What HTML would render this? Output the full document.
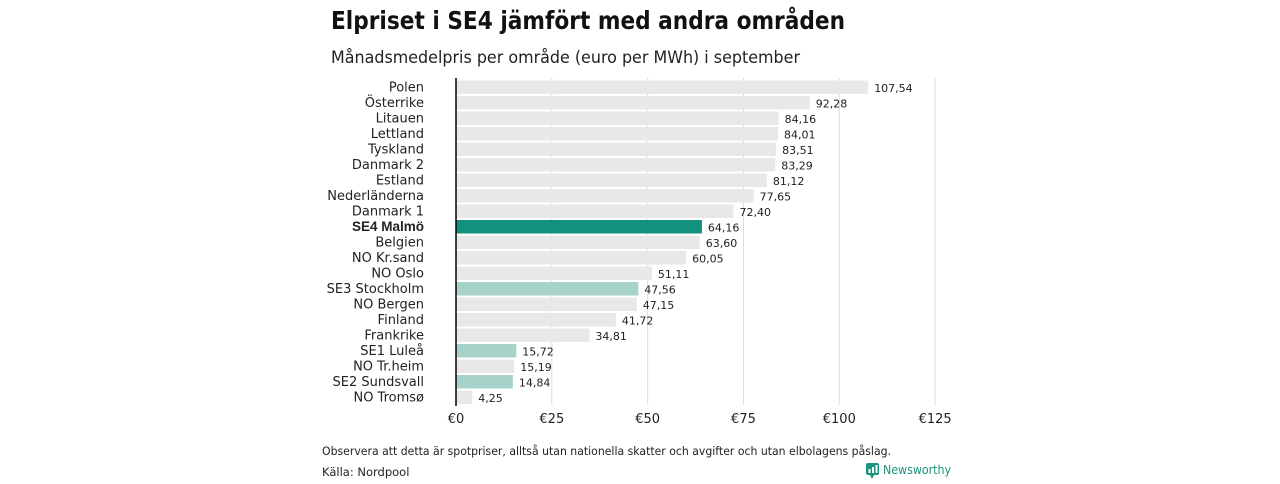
<!DOCTYPE html>
<html><head><meta charset="utf-8"><style>
body{margin:0;background:#fff;width:1280px;height:480px;overflow:hidden;font-family:"DejaVu Sans","Liberation Sans",sans-serif}
</style></head><body>
<svg id="chart" width="1280" height="480" xmlns="http://www.w3.org/2000/svg" font-family="DejaVu Sans, Liberation Sans, sans-serif">
<text x="331" y="29" font-size="25" font-weight="bold" fill="#111" textLength="514" lengthAdjust="spacingAndGlyphs">Elpriset i SE4 jämfört med andra områden</text>
<text x="331" y="63" font-size="17" fill="#222" textLength="469" lengthAdjust="spacingAndGlyphs">Månadsmedelpris per område (euro per MWh) i september</text>
<g id="grid"></g><g id="bars"></g>
<text x="322" y="455" font-size="11.5" fill="#222" textLength="569" lengthAdjust="spacingAndGlyphs">Observera att detta är spotpriser, alltså utan nationella skatter och avgifter och utan elbolagens påslag.</text>
<text x="322" y="476" font-size="11.5" fill="#222">Källa: Nordpool</text>
<g>
<rect x="866" y="463" width="13" height="12" rx="2" fill="#1a9480"/><path d="M870 475 L872 479 L874 475Z" fill="#1a9480"/>
<rect x="868.5" y="469" width="2" height="4" fill="#fff"/><rect x="872" y="467" width="2" height="6" fill="#fff"/><rect x="875.5" y="465" width="2" height="8" fill="#fff"/>
<text x="883" y="474" font-size="12" fill="#1a9480" textLength="68" lengthAdjust="spacingAndGlyphs">Newsworthy</text></g>
</svg>
<script>
const categories=["Polen","Österrike","Litauen","Lettland","Tyskland","Danmark  2","Estland","Nederländerna","Danmark  1","SE4 Malmö","Belgien","NO Kr.sand","NO Oslo","SE3  Stockholm","NO Bergen","Finland","Frankrike","SE1  Luleå","NO Tr.heim","SE2  Sundsvall","NO Tromsø"];
const values=[107.54,92.28,84.16,84.01,83.51,83.29,81.12,77.65,72.40,64.16,63.60,60.05,51.11,47.56,47.15,41.72,34.81,15.72,15.19,14.84,4.25];
const highlight=["","","","","","","","","","main","","","","se","","","","se","","se",""];
const ticks=[0,25,50,75,100,125];
const tickLabels=["€0","€25","€50","€75","€100","€125"];
const NS="http://www.w3.org/2000/svg";
const x=v=>456+v*3.833;
const y=i=>87+i*15.5;
const g=document.getElementById('grid'),b=document.getElementById('bars');
function mk(p,t,a){const e=document.createElementNS(NS,t);for(const k in a)e.setAttribute(k,a[k]);p.appendChild(e);return e;}
ticks.forEach((t,i)=>{
 if(t>0){const l=mk(g,'line',{x1:x(t),x2:x(t),y1:78,y2:405,stroke:'#ddd','stroke-width':1});
 
 }
 const tx=mk(g,'text',{x:x(t),y:423,'font-size':13,'text-anchor':'middle',fill:'#222'});
 tx.textContent=tickLabels[i];
 
 
});
categories.forEach((c,i)=>{
 const col=highlight[i]==='main'?'#13917f':highlight[i]==='se'?'#a6d2ca':'#e8e8e8';
 const r=mk(b,'rect',{x:456,y:y(i)-6.5,width:x(values[i])-456,height:13.5,fill:col});
 
 
 const lb=mk(b,'text',{x:424,y:y(i)+4.5,'font-size':13,'text-anchor':'end',fill:'#222'});
 if(highlight[i]==='main'){lb.setAttribute('font-weight','bold');lb.setAttribute('font-family','Liberation Sans, sans-serif');lb.setAttribute('font-size','13.5');}
 lb.setAttribute('xml:space','preserve');
 lb.textContent=c;
 
 
 const v=mk(b,'text',{x:x(values[i])+6,y:y(i)+5,'font-size':11,fill:'#222'});
 v.textContent=values[i].toFixed(2).replace('.',',');
 
 
});
const ax=mk(b,'line',{x1:456,x2:456,y1:78,y2:406,stroke:'#000','stroke-width':1.5});


</script>
</body></html>
